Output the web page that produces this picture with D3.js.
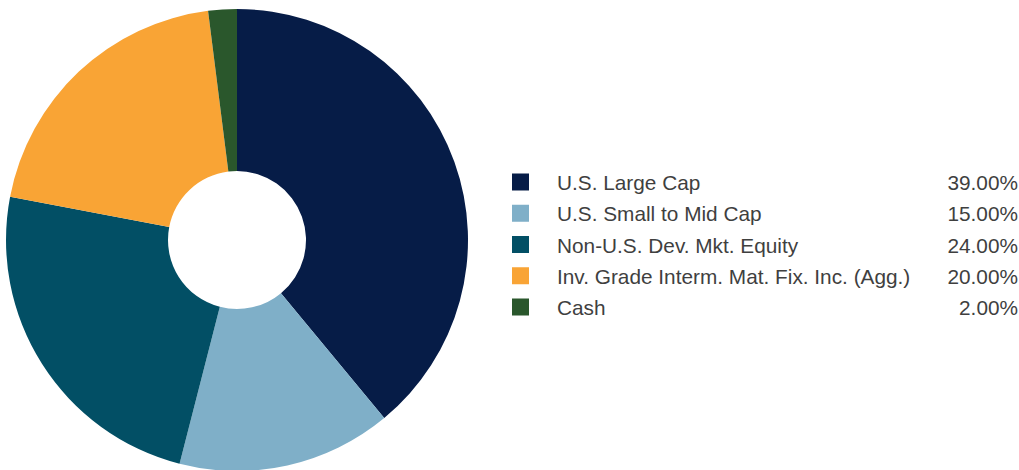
<!DOCTYPE html>
<html>
<head>
<meta charset="utf-8">
<script src="https://cdn.jsdelivr.net/npm/d3@7"></script>
<style>
  html, body { margin: 0; padding: 0; background: #ffffff; }
  svg { display: block; }
</style>
</head>
<body>
<svg id="chart" width="1019" height="470"></svg>
<script>
// Asset allocation
const categories = [
  "U.S. Large Cap",
  "U.S. Small to Mid Cap",
  "Non-U.S. Dev. Mkt. Equity",
  "Inv. Grade Interm. Mat. Fix. Inc. (Agg.)",
  "Cash"
];
const weights = [39, 15, 24, 20, 2];
const valueLabels = ["39.00%", "15.00%", "24.00%", "20.00%", "2.00%"];
const colors = ["#061c47", "#7fafc8", "#024f65", "#f9a435", "#2a572c"];

const svg = d3.select("#chart");

const cx = 237, cy = 240, outerR = 231, innerR = 69;

const pie = d3.pie().sort(null).value(d => d)(weights);
const arc = d3.arc().innerRadius(innerR).outerRadius(outerR);

svg.append("g")
  .attr("transform", `translate(${cx},${cy})`)
  .selectAll("path")
  .data(pie)
  .join("path")
  .attr("d", arc)
  .attr("fill", (d, i) => colors[i]);

// Legend
const rowY = d3.scalePoint()
  .domain(d3.range(categories.length))
  .range([182, 307]);

const legend = svg.append("g")
  .style("font-family", "'Liberation Sans', Arial, sans-serif")
  .style("font-size", "20.8px")
  .style("fill", "#3f3f3f");

const rows = legend.selectAll("g")
  .data(categories)
  .join("g")
  .attr("transform", (d, i) => `translate(0,${rowY(i)})`);

rows.append("rect")
  .attr("x", 512)
  .attr("y", -8.5)
  .attr("width", 17)
  .attr("height", 17)
  .attr("fill", (d, i) => colors[i]);

rows.append("text")
  .attr("x", 557)
  .attr("y", 8)
  .text(d => d);

rows.append("text")
  .attr("x", 1018)
  .attr("y", 8)
  .attr("text-anchor", "end")
  .text((d, i) => valueLabels[i]);
</script>
</body>
</html>
